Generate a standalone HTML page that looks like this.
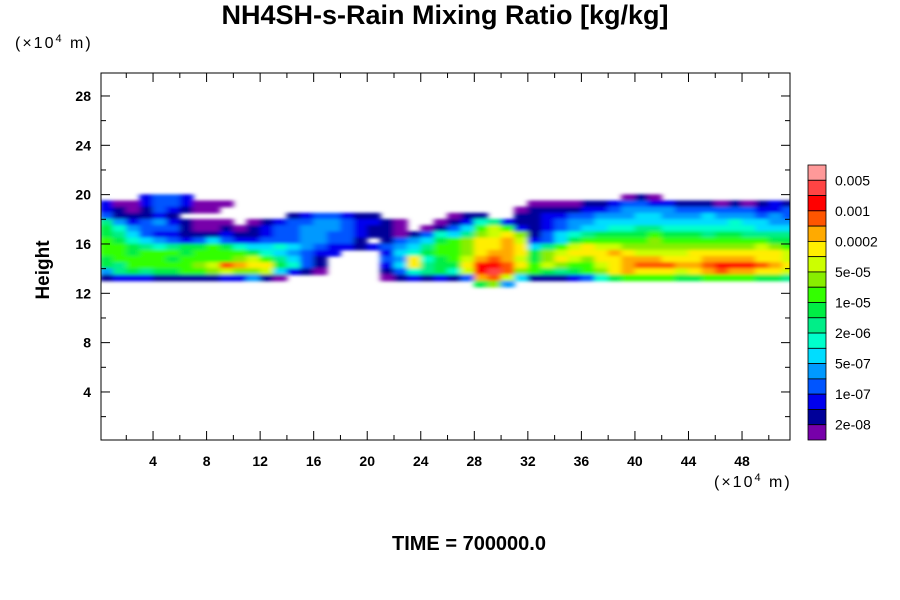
<!DOCTYPE html>
<html><head><meta charset="utf-8"><style>
body{margin:0;background:#fff;}
svg{display:block;font-family:"Liberation Sans",sans-serif;}
</style></head><body>
<svg id="chart" width="900" height="600" viewBox="0 0 900 600">
<defs>
<clipPath id="plotclip"><rect x="101" y="73" width="689" height="367"/></clipPath>
<filter id="soft" x="-5%" y="-20%" width="110%" height="140%"><feGaussianBlur stdDeviation="3 1.6"/></filter>
</defs>
<text x="445" y="24" text-anchor="middle" font-size="27" font-weight="bold">NH4SH-s-Rain Mixing Ratio [kg/kg]</text>
<text x="15" y="48" font-size="16" letter-spacing="2">(×10<tspan dy="-6" font-size="11">4</tspan><tspan dy="6"> m)</tspan></text>
<text x="714" y="487" font-size="16" letter-spacing="2">(×10<tspan dy="-6" font-size="11">4</tspan><tspan dy="6"> m)</tspan></text>
<text x="0" y="0" transform="translate(49,270) rotate(-90)" text-anchor="middle" font-size="19" font-weight="bold">Height</text>
<text x="469" y="550" text-anchor="middle" font-size="20" font-weight="bold">TIME = 700000.0</text>
<g id="field" clip-path="url(#plotclip)"><g id="cells" filter="url(#soft)"></g></g>
<rect x="101" y="73" width="689" height="367" fill="none" stroke="#000" stroke-width="1"/>
<g id="axes"></g>
<g id="colorbar"></g>
</svg>
<script>
const levelColors=["#7700aa","#000099","#0000ee","#0055ff","#0099ff","#00ddff","#00ffcc","#00ee88","#00ee44","#33ff00","#88ee00","#ccff00","#ffee00","#ffaa00","#ff5500","#ff0000","#ff4444","#ff9999"];
const colorbarLabels=["0.005","0.001","0.0002","5e-05","1e-05","2e-06","5e-07","1e-07","2e-08"];
const xTicks=[4,8,12,16,20,24,28,32,36,40,44,48];
const yTicks=[4,8,12,16,20,24,28];
const rowTops=[20,19.5,19,18.5,18,17.5,17,16.5,16,15.5,15,14.5,14,13.5,13];
const fieldRows=[
"...2332................................010..........",
"2002332000......................00001123322111010121",
"210132100......................011112234444333333223",
"311121........1233211.....011..112233444554445444343",
"7423421000.012334432210..012672112344555555555565544",
"86433310010123344432110.01359B9212345566776666666555",
"8753221112112334433211013657ABCA13567888898887887777",
"98654323532233344331.134589ACCDB235899999A9999999988",
"998767889865565432212345799ACCDC579BCBBAAAAAAAAAABA9",
"998999899998654322...256899ACDDC8ABCCCDCBBBBCCCCCCCB",
"8999989999AB97531....34C689BDEDB8ACBACCDDDCCCDDDDCCB",
"8799999ABEDCC8631....25C788CFFEC9BA99BCDEEEDDEFFFEDC",
"47878899ABAAB5210....136786BFGEA98789ACDCCCBCDEDDCCB",
"12221111122410.......0121213DEB511123689999889999887",
"............................8A4....................."
];
const X0=99.5,XS=13.386,Y0=441.3,YS=12.333;
function xPos(v){return X0+XS*v;}
function yPos(v){return Y0-YS*v;}
const NS="http://www.w3.org/2000/svg";
const cells=document.getElementById('cells');
fieldRows.forEach((row,ri)=>{
  const r=row.replace(/ /g,'');
  for(let c=0;c<r.length;c++){
    const ch=r[c]; if(ch==='.')continue;
    const lv=parseInt(ch,18);
    const rect=document.createElementNS(NS,'rect');
    rect.setAttribute('x',xPos(c)-0.3);
    rect.setAttribute('y',yPos(rowTops[ri])-0.3);
    rect.setAttribute('width',XS+0.6);
    rect.setAttribute('height',YS*0.5+0.6);
    rect.setAttribute('fill',levelColors[lv]);
    
    
    cells.appendChild(rect);
  }
});
const axes=document.getElementById('axes');
function line(x1,y1,x2,y2,name){
  const l=document.createElementNS(NS,'line');
  l.setAttribute('x1',x1);l.setAttribute('y1',y1);l.setAttribute('x2',x2);l.setAttribute('y2',y2);
  l.setAttribute('stroke','#000');
  
  
  axes.appendChild(l);
}
function text(x,y,s,anchor,name,size){
  const t=document.createElementNS(NS,'text');
  t.setAttribute('x',x);t.setAttribute('y',y);t.setAttribute('text-anchor',anchor);
  t.setAttribute('font-size',size||14);t.setAttribute('font-weight','bold');
  t.textContent=s;
  
  
  axes.appendChild(t);
}
for(let v=2;v<=50;v+=2){
  const x=xPos(v);const major=v%4===0;const L=major?9:5;
  line(x,440,x,440-L,'x-tick');line(x,73,x,73+L,'x-tick');
}
xTicks.forEach(v=>text(xPos(v),466,String(v),'middle','x-tick-label'));
for(let v=2;v<=28;v+=2){
  const y=yPos(v);const major=v%4===0;const L=major?9:5;
  line(101,y,101+L,y,'y-tick');line(790,y,790-L,y,'y-tick');
}
yTicks.forEach(v=>text(91,yPos(v)+5,String(v),'end','y-tick-label'));
const cb=document.getElementById('colorbar');
const cbTop=165,cbH=275/18;
for(let i=0;i<levelColors.length;i++){
  const r=document.createElementNS(NS,'rect');
  r.setAttribute('x',808);r.setAttribute('y',cbTop+i*cbH);r.setAttribute('width',18);r.setAttribute('height',cbH);
  r.setAttribute('fill',levelColors[levelColors.length-1-i]);r.setAttribute('stroke','#000');r.setAttribute('stroke-width','0.8');
  
  
  cb.appendChild(r);
}
colorbarLabels.forEach((s,k)=>{
  const t=document.createElementNS(NS,'text');
  t.setAttribute('x',835);t.setAttribute('y',cbTop+(2*k+1)*cbH+5);t.setAttribute('font-size',14);
  t.textContent=s;
  
  
  cb.appendChild(t);
});
</script>
</body></html>
